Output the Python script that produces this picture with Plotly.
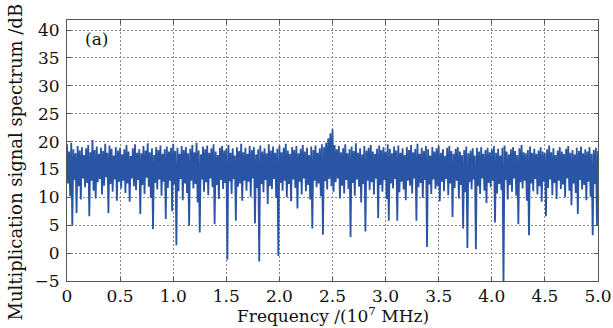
import plotly.graph_objects as go
import numpy as np

# Upper (peak) samples of the spectrum, at f = 0, 0.02, ..., 5.00 (1e7 MHz)
peaks_db = [
    19.5,18.2,19.8,18.6,17.9,19.2,18.4,19.0,17.6,18.8,19.4,18.1,20.3,18.5,19.1,17.8,18.9,18.3,19.6,18.0,19.3,18.7,17.5,19.0,18.4,
    18.9,17.7,18.6,19.4,18.2,17.4,18.8,19.5,18.0,18.6,17.9,19.2,18.4,19.7,18.1,18.8,17.6,19.0,18.5,19.3,17.8,18.6,19.1,18.2,18.9,
    19.6,18.3,18.9,17.8,19.2,18.5,19.0,17.9,18.7,19.4,18.1,19.8,18.4,17.7,19.1,18.6,19.3,18.0,18.8,19.5,18.2,17.6,18.9,19.2,18.4,
    18.7,19.4,18.0,18.8,17.5,19.0,18.3,19.6,18.1,18.9,17.8,19.2,18.5,19.0,17.7,18.6,19.3,18.2,18.8,17.9,19.5,18.4,19.1,18.0,18.7,
    19.3,18.1,18.9,19.6,18.4,17.8,19.0,18.5,19.2,17.9,18.7,19.4,18.2,18.9,17.6,19.1,18.5,19.3,18.0,18.8,19.5,19.0,19.8,20.6,21.5,
    22.2,19.4,18.6,19.2,18.1,18.8,19.5,17.9,18.6,19.1,18.3,19.7,18.0,18.8,17.7,19.2,18.4,18.9,19.4,18.2,17.8,18.7,19.3,18.5,19.0,
    18.2,19.5,18.7,17.9,19.1,18.4,19.3,18.0,18.8,17.6,19.0,18.5,19.4,18.1,18.7,19.6,17.8,18.9,18.3,19.2,18.6,17.5,19.0,18.2,18.8,
    19.3,18.0,18.6,17.4,18.9,19.2,18.3,17.8,18.7,19.0,18.2,17.6,18.5,19.1,17.9,18.4,18.8,17.5,18.9,18.2,19.0,17.8,18.5,18.9,18.1,
    18.6,19.2,18.0,18.7,17.5,18.9,19.3,18.2,17.7,18.6,19.0,18.3,17.6,18.8,19.4,18.1,17.9,18.5,19.1,18.0,18.7,17.8,18.4,19.0,18.2,
    17.9,18.6,19.3,18.1,18.8,17.6,18.4,19.0,18.2,17.8,18.7,19.2,18.0,18.5,17.7,18.9,18.3,19.1,17.9,18.6,18.2,19.0,17.8,18.5,18.9,
    18.3,
]

# Lower (trough) samples, at f = 0.01, 0.03, ..., 4.99 (1e7 MHz)
troughs_db = [
    12.5,10.2,4.9,13.1,7.2,12.0,9.6,13.4,11.8,12.6,6.6,13.0,11.2,9.8,12.7,13.3,10.5,12.1,13.6,7.2,12.4,11.0,13.2,9.4,12.8,
    11.6,13.0,10.8,12.5,9.2,13.4,12.0,11.3,13.1,7.0,12.2,10.6,13.5,11.9,9.9,4.3,12.6,11.4,13.2,10.3,12.8,6.1,11.7,13.0,7.5,
    12.3,1.4,11.1,13.3,9.5,12.5,10.8,4.9,13.0,11.6,12.4,9.1,3.7,13.2,11.0,12.7,10.4,13.4,11.8,5.2,12.2,9.7,13.1,11.5,12.6,
    -1.2,12.9,10.6,13.3,5.8,11.9,12.5,9.4,13.0,11.2,12.8,10.1,13.4,5.3,11.7,-1.5,12.4,10.9,13.1,8.8,12.0,11.5,13.3,9.9,-0.5,
    12.6,11.2,13.0,10.0,12.4,9.3,13.2,11.7,8.0,12.8,10.5,13.4,11.1,12.2,9.6,4.4,13.0,11.8,12.5,10.2,3.3,12.9,11.4,13.3,12.0,
    11.0,12.7,13.4,9.8,12.1,10.7,13.1,11.5,2.9,12.6,10.3,13.2,11.9,9.1,12.4,3.9,13.0,11.3,12.7,10.5,13.4,6.3,12.2,11.0,13.1,
    9.7,5.8,12.5,11.6,13.3,5.8,10.9,12.8,11.4,9.5,13.0,12.1,10.7,13.4,5.8,11.8,12.6,9.9,13.1,1.1,12.3,10.6,13.2,11.5,12.0,
    9.3,12.8,11.1,13.3,10.4,12.5,6.5,11.7,13.0,9.8,12.2,4.4,10.9,0.9,12.7,11.4,13.2,0.7,12.0,10.6,13.4,11.2,9.0,12.6,11.8,
    13.0,5.5,10.7,12.4,11.3,-6.0,13.1,9.6,12.2,11.0,13.4,10.3,5.2,12.7,11.6,13.0,9.4,3.2,12.5,11.1,13.3,10.5,12.0,9.2,12.8,
    6.6,11.7,13.2,10.4,12.6,9.7,13.0,11.5,12.3,10.0,13.4,11.2,8.6,12.5,10.8,7.0,13.1,11.4,12.2,9.5,12.8,10.1,3.2,12.4,5.0,
]

x_tick_vals = [0, 0.5, 1.0, 1.5, 2.0, 2.5, 3.0, 3.5, 4.0, 4.5, 5.0]
x_tick_text = ["0", "0.5", "1.0", "1.5", "2.0", "2.5", "3.0", "3.5", "4.0", "4.5", "5.0"]
y_tick_vals = [-5, 0, 5, 10, 15, 20, 25, 30, 35, 40]
y_tick_text = ["\u22125", "0", "5", "10", "15", "20", "25", "30", "35", "40"]

# interleave peaks and troughs into one sampled series
n = len(peaks_db) + len(troughs_db)
freq = np.linspace(0, 5.0, n)
spec = []
for i in range(len(peaks_db)):
    spec.append(peaks_db[i])
    if i < len(troughs_db):
        spec.append(troughs_db[i])

fig = go.Figure()
fig.add_trace(go.Scatter(x=freq, y=spec, mode="lines",
                         line=dict(color="#2a55a5", width=1.8), showlegend=False))

font_family = "DejaVu Serif"
axis_common = dict(showline=True, linecolor="#555555", linewidth=1, mirror="ticks",
                   ticks="inside", ticklen=4, tickcolor="#555555",
                   showgrid=True, gridcolor="#888888", gridwidth=1, griddash="1.5px,2.5px",
                   zeroline=False, automargin=False,
                   tickfont=dict(family=font_family, size=17, color="#111"))

fig.update_layout(
    width=613, height=328,
    margin=dict(l=67, r=15, t=20, b=47),
    paper_bgcolor="white", plot_bgcolor="white",
    font=dict(family=font_family, color="#111"),
    xaxis=dict(range=[0, 5.0], tickvals=x_tick_vals, ticktext=x_tick_text, **axis_common),
    yaxis=dict(range=[-5, 41.8], tickvals=y_tick_vals, ticktext=y_tick_text, ticklabelstandoff=3,
               **axis_common),
    annotations=[
        dict(text="(a)", xref="paper", yref="paper", x=0.03, y=0.975,
             xanchor="left", yanchor="top", showarrow=False,
             font=dict(family=font_family, size=17, color="#111")),
        dict(text="Frequency /(10<sup>7</sup> MHz)", xref="paper", yref="paper",
             x=0.5, y=0, yshift=-34, xanchor="center", yanchor="middle", showarrow=False,
             font=dict(family=font_family, size=17, color="#111")),
        dict(text="Multiplication signal spectrum /dB", xref="paper", yref="paper",
             x=0, xshift=-52, y=0.5, yshift=-12, xanchor="center", yanchor="middle",
             textangle=-90, showarrow=False,
             font=dict(family=font_family, size=18, color="#111")),
    ],
)

fig.write_html("out.html", config={"displayModeBar": False},
               post_script="document.body.style.margin='0px';")
